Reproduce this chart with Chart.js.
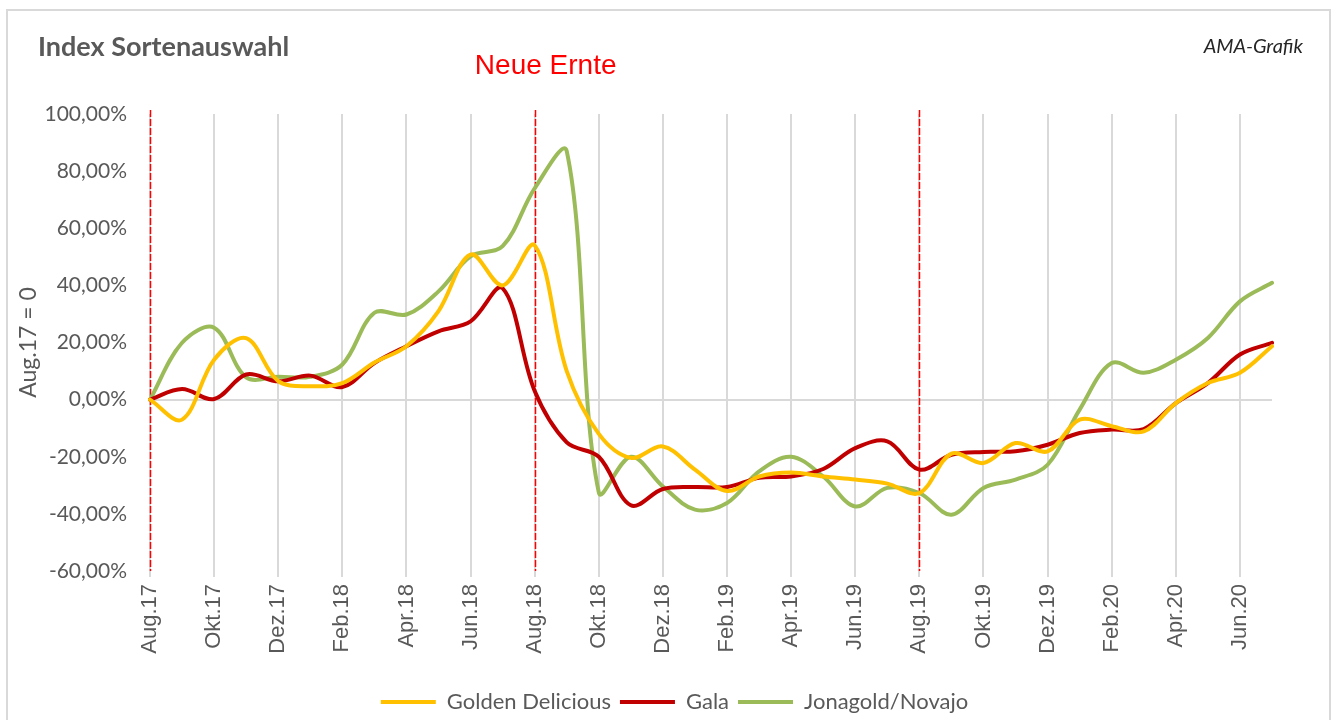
<!DOCTYPE html>
<html lang="de"><head>
<meta charset="UTF-8">
<title>Index Sortenauswahl</title>
<script src="https://cdn.jsdelivr.net/npm/chart.js@4.4.0/dist/chart.umd.min.js"></script>
<style>
	body { margin:0; background:#FFFFFF; }
	#box { position:relative; width:1333px; height:720px; }
</style>
</head>
<body>
<div id="box"><canvas id="apfel_chart"></canvas></div>
<script>
	// Monate Aug.17 - Jul.20
	const months = ['Aug.17','Sep.17','Okt.17','Nov.17','Dez.17','Jan.18','Feb.18','Mär.18','Apr.18','Mai.18','Jun.18','Jul.18',
		'Aug.18','Sep.18','Okt.18','Nov.18','Dez.18','Jan.19','Feb.19','Mär.19','Apr.19','Mai.19','Jun.19','Jul.19',
		'Aug.19','Sep.19','Okt.19','Nov.19','Dez.19','Jan.20','Feb.20','Mär.20','Apr.20','Mai.20','Jun.20','Jul.20'];

	// Index in %, Aug.17 = 0
	const golden = [0, -7, 14, 21.5, 6.5, 4.7, 5.8, 13, 18.7, 31, 50.8, 40,
		54, 10, -12, -20.4, -16.4, -24.5, -32, -26.9, -25.5, -26.9, -28, -29.4,
		-32.7, -18.9, -22.2, -15.2, -18.1, -7, -9.3, -11.1, -1.2, 5.8, 9.4, 18.7];
	const gala = [0, 3.7, 0.2, 8.8, 6.4, 8.4, 4.4, 12.8, 18.7, 23.9, 27.4, 39,
		3, -15, -20, -37, -31.3, -30.6, -30.6, -27.4, -26.9, -24.3, -17, -14.6,
		-24.5, -19.3, -18.3, -18.1, -15.8, -11.7, -10.5, -10.3, -1.2, 5.8, 15.8, 19.9];
	const jonagold = [0, 19.9, 25.2, 7.8, 8, 8, 12.3, 30.4, 29.8, 37.9, 50.2, 53.7,
		74, 87, -32.5, -20, -30.4, -38.5, -36.2, -25.1, -20, -26.9, -37.4, -30.9,
		-32.7, -40.3, -30.9, -28, -22.8, -3.5, 12.8, 9.4, 14, 21.6, 34.4, 40.9];

	// neue Ernte jeweils im August
	const harvest = ['Aug.17','Aug.18','Aug.19'];

	const grey = '#D9D9D9';
	const txt = '#595959';

	//Frame, Titles, Harvest lines
	const decoPlugin = {
		id: 'deco',
		beforeDatasetsDraw(chart) {
			const c = chart.ctx, x = chart.scales.x, a = chart.chartArea;
			c.save();
			c.strokeStyle = '#FF0000';
			c.lineWidth = 1.5;
			c.setLineDash([7, 2]);
			harvest.forEach(h => {
				const px = Math.round(x.getPixelForValue(months.indexOf(h))) + 0.5;
				c.beginPath();
				c.moveTo(px, a.top - 4);
				c.lineTo(px, a.bottom);
				c.stroke();
			});
			c.restore();
		},
		afterDraw(chart) {
			const c = chart.ctx, x = chart.scales.x, a = chart.chartArea;
			c.save();
			c.strokeStyle = grey;
			c.lineWidth = 2;
			c.strokeRect(7, 10, 1323, 730);

			c.textBaseline = 'middle';
			c.fillStyle = txt;
			c.font = 'bold 27px Lato';
			c.textAlign = 'left';
			c.fillText('Index Sortenauswahl', 38, 47);

			c.fillStyle = '#262626';
			c.font = 'italic 20px Lato';
			c.textAlign = 'right';
			c.fillText('AMA-Grafik', 1303, 47);

			c.fillStyle = '#FF0000';
			c.font = '28px "Liberation Sans"';
			c.textAlign = 'center';
			c.fillText('Neue Ernte', x.getPixelForValue(months.indexOf('Aug.18')) + 11, 66);

			// y axis title
			c.fillStyle = txt;
			c.font = '23px Lato';
			c.translate(29, (a.top + a.bottom) / 2);
			c.rotate(-Math.PI / 2);
			c.fillText('Aug.17 = 0', 0, 0);
			c.restore();
		}
	};

	function ds(label, data, color) {
		return {
			label: label, data: data,
			borderColor: color, backgroundColor: color,
			borderWidth: 4, pointRadius: 0, tension: 0.35,
			borderCapStyle: 'round'
		};
	}

	const padBottom = -3;

	let aChart = new Chart(document.getElementById('apfel_chart'), {
		type: 'line',
		data: {
			labels: months,
			datasets: [
				ds('Golden Delicious', golden, '#FFC000'),
				ds('Gala', gala, '#C00000'),
				ds('Jonagold/Novajo', jonagold, '#9BBB59')
			]
		},
		options: {
			responsive: true,
			maintainAspectRatio: false,
			animation: false,
			layout: { padding: { top: 114, left: 0, right: -16, bottom: padBottom } },
			scales: {
				x: {
					offset: false,
					border: { display: false },
					grid: {
						color: ctx => (ctx.index % 2 === 0 ? grey : 'rgba(0,0,0,0)'),
						lineWidth: 2,
						tickLength: 6
					},
					ticks: {
						autoSkip: false, maxRotation: 90, minRotation: 90, padding: 7,
						color: txt, font: { family: 'Liberation Sans', size: 22 },
						callback: function(v, i) { return i % 2 === 0 ? months[i] : ''; }
					},
					afterFit: s => { s.height = 720 - padBottom - 571 - s.chart.legend.height; }
				},
				y: {
					min: -60, max: 100,
					border: { display: false },
					grid: {
						color: ctx => (ctx.tick && ctx.tick.value === 0 ? grey : 'rgba(0,0,0,0)'),
						lineWidth: 2,
						drawTicks: false
					},
					ticks: {
						stepSize: 20, padding: 23, color: txt,
						font: { family: 'Lato', size: 21 },
						callback: v => v.toFixed(2).replace('.', ',') + '%'
					},
					afterFit: s => { s.width = 150; }
				},
				// leerer Rand rechts
				yRight: {
					position: 'right',
					border: { display: false },
					grid: { display: false },
					ticks: { display: false },
					afterFit: s => { s.width = 77; }
				}
			},
			plugins: {
				legend: {
					position: 'bottom',
					labels: {
						color: txt, boxWidth: 55, boxHeight: 4, padding: 9,
						font: { family: 'Lato', size: 22 },
						generateLabels: ch => Chart.defaults.plugins.legend.labels.generateLabels(ch)
							.map(l => Object.assign(l, { lineWidth: 0 }))
					}
				},
				tooltip: { enabled: false }
			}
		},
		plugins: [decoPlugin]
	});
</script>
</body></html>
